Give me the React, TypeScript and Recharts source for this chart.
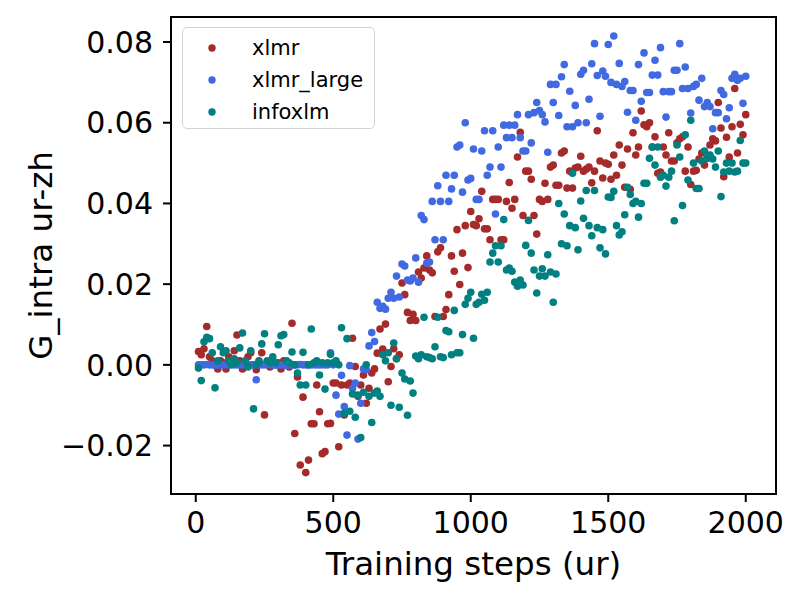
import React from "react"
import {
  ScatterChart,
  Scatter,
  XAxis,
  YAxis,
  Legend,
  Label,
  ReferenceArea,
} from "recharts"

const FONT = "'DejaVu Sans', sans-serif"

// training steps (ur), one sample every 10 steps
const steps = [
  10, 20, 30, 40, 50, 60, 70, 80, 90, 100, 110, 120, 130, 140, 150, 160, 170, 180, 190, 200,
  210, 220, 230, 240, 250, 260, 270, 280, 290, 300, 310, 320, 330, 340, 350, 360, 370, 380, 390, 400,
  410, 420, 430, 440, 450, 460, 470, 480, 490, 500, 510, 520, 530, 540, 550, 560, 570, 580, 590, 600,
  610, 620, 630, 640, 650, 660, 670, 680, 690, 700, 710, 720, 730, 740, 750, 760, 770, 780, 790, 800,
  810, 820, 830, 840, 850, 860, 870, 880, 890, 900, 910, 920, 930, 940, 950, 960, 970, 980, 990, 1000,
  1010, 1020, 1030, 1040, 1050, 1060, 1070, 1080, 1090, 1100, 1110, 1120, 1130, 1140, 1150, 1160, 1170, 1180, 1190, 1200,
  1210, 1220, 1230, 1240, 1250, 1260, 1270, 1280, 1290, 1300, 1310, 1320, 1330, 1340, 1350, 1360, 1370, 1380, 1390, 1400,
  1410, 1420, 1430, 1440, 1450, 1460, 1470, 1480, 1490, 1500, 1510, 1520, 1530, 1540, 1550, 1560, 1570, 1580, 1590, 1600,
  1610, 1620, 1630, 1640, 1650, 1660, 1670, 1680, 1690, 1700, 1710, 1720, 1730, 1740, 1750, 1760, 1770, 1780, 1790, 1800,
  1810, 1820, 1830, 1840, 1850, 1860, 1870, 1880, 1890, 1900, 1910, 1920, 1930, 1940, 1950, 1960, 1970, 1980, 1990, 2000,
]

const xlmr = [
  0.0033, 0.0025, 0.004, 0.0095, 0.002, 0.001, 0.0, -0.001, 0.001, 0.0005,
  -0.001, 0.002, 0.001, 0.0035, 0.0074, 0.001, -0.001, 0.0005, 0.002, 0.003,
  0.0, -0.0012, 0.001, 0.003, -0.0124, 0.0005, -0.0005, 0.001, 0.0, 0.0005,
  -0.001, 0.001, 0.0, -0.0005, 0.0103, -0.017, -0.003, -0.0248, -0.008, -0.0267,
  -0.0236, -0.0146, -0.0146, -0.005, -0.0116, -0.022, -0.0215, -0.0146, -0.0145, -0.0045,
  -0.0045, -0.0203, -0.005, -0.0124, -0.005, -0.0045, 0.0066, -0.0004, -0.0078, -0.005,
  -0.0025, -0.0095, -0.0058, -0.002, -0.001, 0.0029, 0.0089, 0.0039, 0.0101, -0.0042,
  -0.0004, 0.004, 0.0015, 0.0025, 0.0203, 0.0174, 0.013, 0.011, 0.0125, 0.011,
  0.023, 0.0215, 0.024, 0.027, 0.0235, 0.0228, 0.012, 0.028, 0.029, 0.012,
  0.0137, 0.0174, 0.027, 0.0232, 0.0335, 0.0199, 0.0277, 0.0345, 0.0241, 0.038,
  0.0348, 0.0345, 0.0362, 0.043, 0.0337, 0.0337, 0.031, 0.041, 0.041, 0.041,
  0.031, 0.031, 0.0405, 0.0452, 0.0388, 0.041, 0.0515, 0.0576, 0.037, 0.048,
  0.048, 0.046, 0.037, 0.0324, 0.041, 0.0405, 0.045, 0.041, 0.049, 0.0495,
  0.0445, 0.0445, 0.0525, 0.053, 0.0438, 0.048, 0.0438, 0.0488, 0.049, 0.0517,
  0.048, 0.0485, 0.049, 0.0451, 0.048, 0.058, 0.0505, 0.0463, 0.05, 0.0497,
  0.046, 0.052, 0.047, 0.0545, 0.0495, 0.044, 0.0535, 0.0435, 0.0575, 0.052,
  0.054, 0.0629, 0.0595, 0.059, 0.06, 0.054, 0.0565, 0.0475, 0.0478, 0.054,
  0.052, 0.0575, 0.0505, 0.0505, 0.055, 0.056, 0.0565, 0.048, 0.054, 0.0447,
  0.048, 0.0482, 0.051, 0.0525, 0.0495, 0.0512, 0.0545, 0.056, 0.0555, 0.065,
  0.0587, 0.0466, 0.0564, 0.0515, 0.059, 0.0685, 0.0525, 0.0596, 0.057, 0.062,
]

const xlmrLarge = [
  0, 0, 0, 0.0001, 0, 0, -0.0001, 0, 0, 0,
  0, 0, 0.0001, 0, 0, 0, 0, 0, -0.0001, 0,
  0, -0.0037, 0, 0, 0, 0.0001, 0, 0, 0, 0,
  0, 0, -0.0001, 0, 0, 0, 0, 0.0001, 0, 0,
  0, 0, 0, 0, 0, 0, 0, 0, 0.003, 0,
  -0.0075, -0.0122, -0.0026, -0.0103, -0.0174, -0.0002, -0.0058, -0.0045, -0.0184, -0.0095,
  -0.001, -0.0012, 0.0047, 0.008, 0.0058, 0.0155, 0.014, 0.0145, 0.0138, 0.0165,
  0.018, 0.0165, 0.022, 0.0168, 0.025, 0.0245, 0.021, 0.0208, 0.0215, 0.0265,
  0.0205, 0.037, 0.036, 0.0252, 0.0255, 0.0405, 0.031, 0.0444, 0.0405, 0.031,
  0.047, 0.0405, 0.0436, 0.047, 0.054, 0.0545, 0.0428, 0.06, 0.0458, 0.0462,
  0.0535, 0.041, 0.041, 0.053, 0.058, 0.047, 0.049, 0.058, 0.0374, 0.054,
  0.049, 0.0594, 0.0563, 0.0594, 0.0563, 0.0594, 0.062, 0.0563, 0.053, 0.053,
  0.062, 0.055, 0.0625, 0.065, 0.063, 0.062, 0.0602, 0.0527, 0.0695, 0.065,
  0.0695, 0.0618, 0.0714, 0.0744, 0.059, 0.0678, 0.059, 0.0643, 0.06, 0.072,
  0.073, 0.06, 0.0658, 0.0746, 0.0796, 0.0717, 0.0616, 0.0728, 0.0715, 0.0794,
  0.07, 0.0815, 0.0695, 0.0747, 0.069, 0.0702, 0.0626, 0.068, 0.068, 0.0606,
  0.0744, 0.0653, 0.0773, 0.0675, 0.0675, 0.0718, 0.0755, 0.0718, 0.0786, 0.0677,
  0.0614, 0.0677, 0.0677, 0.073, 0.073, 0.0796, 0.0685, 0.0738, 0.0685, 0.0624,
  0.069, 0.0695, 0.0656, 0.071, 0.064, 0.065, 0.064, 0.0585, 0.0625, 0.0625,
  0.068, 0.067, 0.061, 0.0637, 0.071, 0.072, 0.0705, 0.071, 0.0648, 0.0715,
]

const infoxlm = [
  -0.0008, -0.0039, 0.0057, 0.0068, 0.0065, 0.003, -0.0057, 0.001, 0.0045, 0.003,
  0.0035, 0.001, 0.0, 0.0015, 0.0005, 0.0042, 0.0079, 0.001, -0.0005, 0.0035,
  -0.0109, 0.0, 0.0008, 0.0052, 0.0077, 0.001, 0.0005, 0.002, 0.0005, 0.005,
  0.0072, 0.0075, 0.001, 0.0005, 0.0032, 0.0, -0.002, -0.005, 0.0031, -0.005,
  0.0, 0.0089, 0.0005, 0.001, -0.0025, 0.0005, -0.006, 0.0005, 0.0026, 0.0005,
  0.001, 0.0, 0.0092, -0.012, 0.0065, -0.0115, -0.0072, -0.013, -0.0075, -0.018,
  -0.0068, 0.0, -0.0078, -0.0143, -0.007, -0.0065, -0.0078, 0.0025, 0.001, 0.003,
  -0.01, 0.0054, 0.0015, -0.0105, -0.002, -0.0035, -0.0125, -0.004, -0.007, 0.0022,
  0.0015, 0.0025, 0.0118, 0.002, 0.0018, 0.0015, 0.0045, 0.0118, 0.002, 0.0018,
  0.0085, 0.0082, 0.0025, 0.0135, 0.003, 0.003, 0.0075, 0.015, 0.0165, 0.018,
  0.0066, 0.015, 0.0155, 0.0175, 0.016, 0.018, 0.0255, 0.0277, 0.0295, 0.0255,
  0.0295, 0.036, 0.0235, 0.024, 0.0232, 0.0205, 0.0195, 0.021, 0.0198, 0.0296,
  0.0358, 0.0277, 0.0235, 0.0178, 0.022, 0.0238, 0.022, 0.0273, 0.023, 0.0155,
  0.0225, 0.04, 0.03, 0.0374, 0.0295, 0.0345, 0.0475, 0.034, 0.0285, 0.0406,
  0.0363, 0.0432, 0.0345, 0.032, 0.0432, 0.034, 0.029, 0.0335, 0.0275, 0.0416,
  0.0415, 0.043, 0.0345, 0.0322, 0.033, 0.0372, 0.044, 0.0422, 0.04, 0.0405,
  0.0366, 0.04, 0.045, 0.045, 0.0512, 0.054, 0.0495, 0.054, 0.0465, 0.047,
  0.0443, 0.0465, 0.048, 0.0357, 0.0545, 0.0515, 0.0395, 0.057, 0.0458, 0.0606,
  0.05, 0.0437, 0.0437, 0.0505, 0.053, 0.0512, 0.052, 0.051, 0.049, 0.053,
  0.0417, 0.0478, 0.05, 0.048, 0.05, 0.0478, 0.048, 0.0556, 0.05, 0.05,
]

const xTicks = [0, 500, 1000, 1500, 2000]
const yTicks = [-0.02, 0, 0.02, 0.04, 0.06, 0.08]

const series = [
  { name: "xlmr", color: "#a52a2a", values: xlmr },
  { name: "xlmr_large", color: "#4169e1", values: xlmrLarge },
  { name: "infoxlm", color: "#008080", values: infoxlm },
]

const toPoints = (values: number[]) =>
  steps.map((step, i) => ({ x: step, y: values[i] }))

const formatY = (v: number) => {
  if (Math.abs(v) < 1e-9) return "0.00"
  return (v < 0 ? "\u2212" : "") + Math.abs(v).toFixed(2)
}

const dot = (color: string) => (props: any) => {
  const { cx, cy } = props
  if (cx == null || cy == null) return <g />
  return <circle cx={cx} cy={cy} r={3.8} fill={color} />
}

const renderLegend = () => (
  <div
    style={{
      position: "relative",
      width: 193,
      height: 102,
      border: "1.5px solid #d3d3d3",
      borderRadius: 5,
      background: "rgba(255,255,255,0.8)",
      boxSizing: "border-box",
      fontFamily: FONT,
      fontSize: 21,
      color: "#000",
    }}
  >
    {series.map((s, i) => (
      <div
        key={s.name}
        style={{
          position: "absolute",
          left: 0,
          top: 5 + i * 32,
          height: 30,
          display: "flex",
          alignItems: "center",
        }}
      >
        <svg width={60} height={30} style={{ display: "block" }}>
          <circle cx={29} cy={15} r={3.7} fill={s.color} />
        </svg>
        <span style={{ marginLeft: 9, lineHeight: "30px" }}>{s.name}</span>
      </div>
    ))}
  </div>
)

export default function App() {
  return (
    <div
      style={{
        position: "absolute",
        left: 0,
        top: 0,
        width: 798,
        height: 597,
        background: "#fff",
      }}
    >
      <ScatterChart
        width={798}
        height={597}
        margin={{ top: 17, right: 22, bottom: 0, left: 0 }}
      >
        <XAxis
          type="number"
          dataKey="x"
          domain={[-90, 2110]}
          ticks={xTicks}
          interval={0}
          allowDataOverflow
          height={103}
          tickSize={8}
          tickMargin={10}
          axisLine={{ stroke: "#000", strokeWidth: 2 }}
          tickLine={{ stroke: "#000", strokeWidth: 2 }}
          tick={{ fontSize: 30, fill: "#000", fontFamily: FONT }}
        >
          <Label
            value="Training steps (ur)"
            position="insideBottom"
            offset={22}
            style={{ fontSize: 32.5, fill: "#000", fontFamily: FONT }}
          />
        </XAxis>
        <YAxis
          type="number"
          dataKey="y"
          domain={[-0.032, 0.0862]}
          ticks={yTicks}
          interval={0}
          allowDataOverflow
          width={171}
          tickSize={8}
          tickMargin={10}
          tickFormatter={formatY}
          axisLine={{ stroke: "#000", strokeWidth: 2 }}
          tickLine={{ stroke: "#000", strokeWidth: 2 }}
          tick={{ fontSize: 30, fill: "#000", fontFamily: FONT }}
        >
          <Label
            value="G_intra ur-zh"
            angle={-90}
            position="insideLeft"
            offset={40}
            style={{
              fontSize: 32.5,
              fill: "#000",
              fontFamily: FONT,
              textAnchor: "middle",
            }}
          />
        </YAxis>
        <ReferenceArea
          x1={-90}
          x2={2110}
          y1={-0.032}
          y2={0.0862}
          fill="none"
          stroke="#000"
          strokeWidth={2}
          ifOverflow="visible"
        />
        {series.map((s) => (
          <Scatter
            key={s.name}
            name={s.name}
            data={toPoints(s.values)}
            fill={s.color}
            shape={dot(s.color)}
            isAnimationActive={false}
          />
        ))}
        <Legend
          layout="vertical"
          align="center"
          verticalAlign="middle"
          content={renderLegend}
          wrapperStyle={{ left: 182, top: 27, width: 193, height: 102 }}
        />
      </ScatterChart>
    </div>
  )
}
